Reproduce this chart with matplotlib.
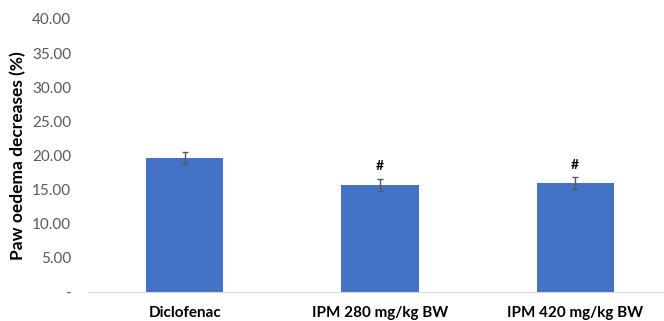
import numpy as np
import matplotlib
matplotlib.use("Agg")
import matplotlib.pyplot as plt

groups = ["Diclofenac", "IPM 280 mg/kg BW", "IPM 420 mg/kg BW"]
means = [19.65, 15.70, 15.95]
errs = [0.90, 0.85, 0.85]
marks = ["", "#", "#"]
yticks = [0, 5, 10, 15, 20, 25, 30, 35, 40]
ytick_labels = ["-"] + ["%.2f" % v for v in yticks[1:]]

plt.rcParams["font.family"] = ["Lato", "DejaVu Sans"]

fig = plt.figure(figsize=(6.64, 3.21), dpi=100)
ax = fig.add_axes([88 / 664, 29 / 321, 1 - 88 / 664, 273 / 321])

x = np.arange(len(groups))
ax.bar(x, means, width=0.395, color="#4472C4", zorder=2)
ax.errorbar(x, means, yerr=errs, fmt="none", ecolor="#595959",
            elinewidth=1, capsize=2.5, capthick=1, zorder=3)
for xi, m, e, s in zip(x, means, errs, marks):
    if s:
        ax.text(xi, m + e + 1.0, s, ha="center", va="bottom",
                fontsize=10, fontweight="bold", color="black")

ax.set_xlim(-0.497, 2.456)
ax.set_ylim(0, 40)
ax.set_yticks(yticks)
ax.set_yticklabels(ytick_labels)
ax.set_xticks(x)
ax.set_xticklabels(groups, fontweight="bold", fontsize=11)
ax.tick_params(axis="y", length=0, labelsize=11, labelcolor="#595959", pad=12)
ax.tick_params(axis="x", length=0, pad=10)
for side in ["top", "right", "left"]:
    ax.spines[side].set_visible(False)
ax.spines["bottom"].set_color("#D9D9D9")
ax.set_ylabel("Paw oedema decreases (%)", fontsize=12.5, fontweight="bold", labelpad=4)

fig.savefig("out.png", dpi=100)
